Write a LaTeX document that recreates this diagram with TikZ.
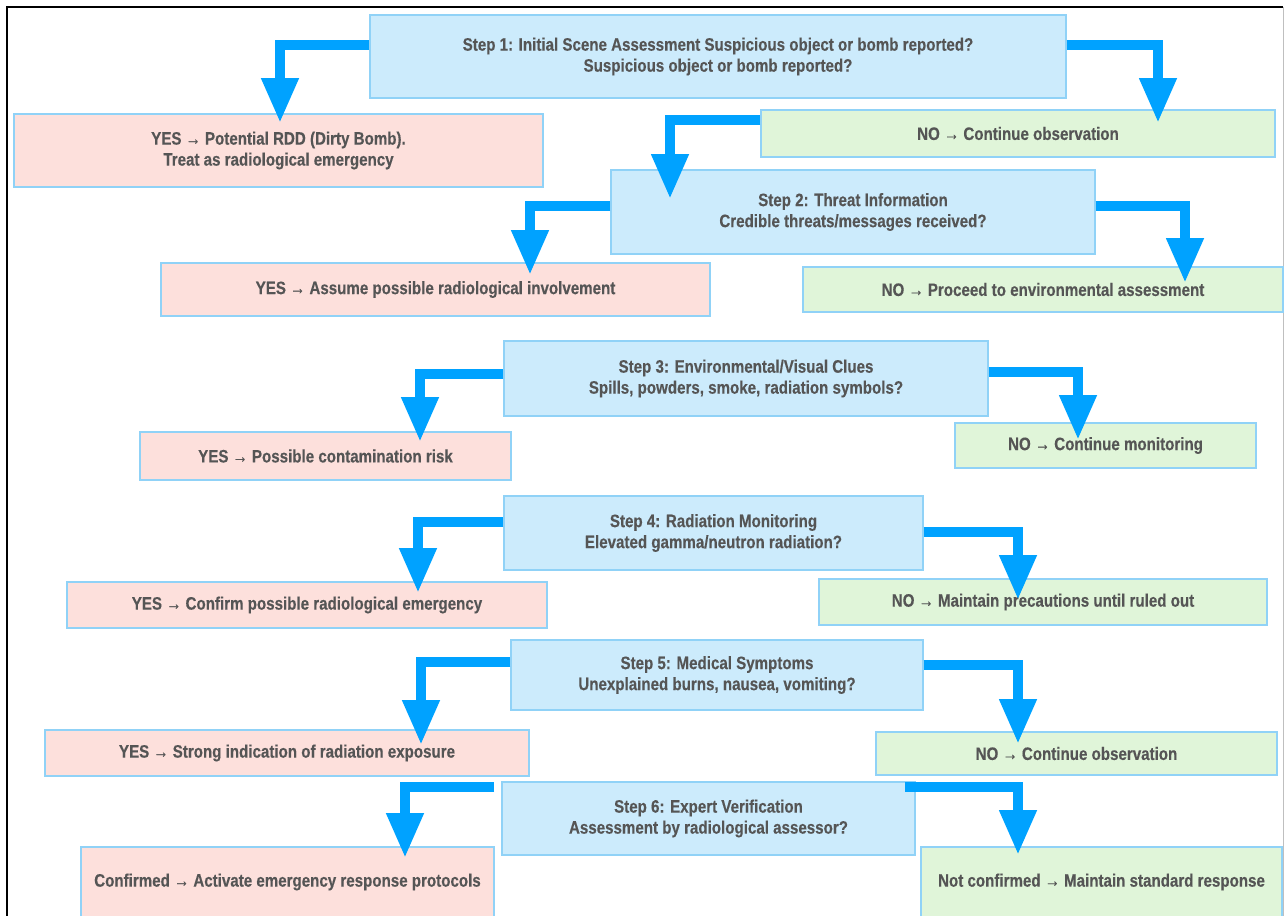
\documentclass[tikz,border=0pt]{standalone}
\usepackage{fontspec}
\setmainfont{Liberation Sans}[FakeStretch=0.84, BoldFeatures={FakeBold=0.3}]
\usetikzlibrary{arrows.meta}

\definecolor{stepfill}{HTML}{CCEBFC}
\definecolor{yesfill}{HTML}{FDE0DC}
\definecolor{nofill}{HTML}{E0F5D9}
\definecolor{boxline}{HTML}{90D2F7}
\definecolor{flowblue}{HTML}{00A2FF}
\definecolor{textgray}{HTML}{555555}

\tikzset{
  box/.style={draw=boxline, line width=1.2pt, inner sep=0pt, align=center,
    text=textgray, font=\fontsize{18}{21}\selectfont\bfseries},
  stepbox/.style={box, fill=stepfill},
  yesbox/.style={box, fill=yesfill},
  nobox/.style={box, fill=nofill},
  flow/.style={draw=flowblue, line width=10.5pt, line join=miter,
    -{Triangle[length=45pt, width=35pt]}},
}

\begin{document}
\begin{tikzpicture}[x=1pt, y=-1pt]
\useasboundingbox (0,0) rectangle (1286,916);

% frame
\draw[line width=2pt] (7,916) -- (7,7) -- (1283,7);
\draw[black!25, line width=0.8pt] (1283,7) -- (1283,916);

% step boxes
\node[stepbox, minimum width=696pt, minimum height=83pt] (s1) at (718,56.5)
  {Step 1: Initial Scene Assessment Suspicious object or bomb reported?\\Suspicious object or bomb reported?};
\node[stepbox, minimum width=484pt, minimum height=84pt] (s2) at (853,212)
  {Step 2: Threat Information\\Credible threats/messages received?};
\node[stepbox, minimum width=484pt, minimum height=75pt] (s3) at (746,378.5)
  {Step 3: Environmental/Visual Clues\\Spills, powders, smoke, radiation symbols?};
\node[stepbox, minimum width=419pt, minimum height=74pt] (s4) at (713.5,533)
  {Step 4: Radiation Monitoring\\Elevated gamma/neutron radiation?};
\node[stepbox, minimum width=412pt, minimum height=70pt] (s5) at (717,675)
  {Step 5: Medical Symptoms\\Unexplained burns, nausea, vomiting?};
\node[stepbox, minimum width=413pt, minimum height=73pt] (s6) at (708.5,818.5)
  {Step 6: Expert Verification\\Assessment by radiological assessor?};

% yes boxes
\node[yesbox, minimum width=529pt, minimum height=73pt] (yes1) at (278.5,150.5)
  {YES → Potential RDD (Dirty Bomb).\\Treat as radiological emergency};
\node[yesbox, minimum width=549pt, minimum height=53pt] (yes2) at (435.5,289.5)
  {YES → Assume possible radiological involvement};
\node[yesbox, minimum width=371pt, minimum height=48pt] (yes3) at (325.5,456)
  {YES → Possible contamination risk};
\node[yesbox, minimum width=480pt, minimum height=46pt] (yes4) at (307,605)
  {YES → Confirm possible radiological emergency};
\node[yesbox, minimum width=484pt, minimum height=46pt] (yes5) at (287,753)
  {YES → Strong indication of radiation exposure};
\node[yesbox, minimum width=413pt, minimum height=70pt] (yes6) at (287.5,882)
  {Confirmed → Activate emergency response protocols};

% no boxes
\node[nobox, minimum width=514pt, minimum height=47pt] (no1) at (1018,133.5)
  {NO → Continue observation};
\node[nobox, minimum width=480pt, minimum height=45pt] (no2) at (1043,289.5)
  {NO → Proceed to environmental assessment};
\node[nobox, minimum width=301pt, minimum height=45pt] (no3) at (1105.5,445.5)
  {NO → Continue monitoring};
\node[nobox, minimum width=448pt, minimum height=46pt] (no4) at (1043,602)
  {NO → Maintain precautions until ruled out};
\node[nobox, minimum width=401pt, minimum height=43pt] (no5) at (1076.5,753.5)
  {NO → Continue observation};
\node[nobox, minimum width=361pt, minimum height=70pt] (no6) at (1101.5,882)
  {Not confirmed → Maintain standard response};

% arrow tips
\coordinate (t1y) at (280,123);
\coordinate (t1n) at (1158,123);
\coordinate (t1s) at (670,199);
\coordinate (t2y) at (530,275);
\coordinate (t2n) at (1185,283);
\coordinate (t3y) at (420,442);
\coordinate (t3n) at (1078,440);
\coordinate (t4y) at (418,593);
\coordinate (t4n) at (1018,600);
\coordinate (t5y) at (421,745);
\coordinate (t5n) at (1018,744);
\coordinate (t6y) at (405,858);
\coordinate (t6n) at (1018,855);
\coordinate (f6y) at (494,787);
\coordinate (f6n) at (905,787);

% connectors
\draw[flow] (s1.west |- 0,45) -| (t1y);
\draw[flow] (s1.east |- 0,45) -| (t1n);
\draw[flow] (no1.west |- 0,120) -| (t1s);
\draw[flow] (s2.west |- 0,206) -| (t2y);
\draw[flow] (s2.east |- 0,206) -| (t2n);
\draw[flow] (s3.west |- 0,374) -| (t3y);
\draw[flow] (s3.east |- 0,372) -| (t3n);
\draw[flow] (s4.west |- 0,522) -| (t4y);
\draw[flow] (s4.east |- 0,532) -| (t4n);
\draw[flow] (s5.west |- 0,662) -| (t5y);
\draw[flow] (s5.east |- 0,665) -| (t5n);
\draw[flow] (f6y) -| (t6y);
\draw[flow] (f6n) -| (t6n);
\end{tikzpicture}
\end{document}
